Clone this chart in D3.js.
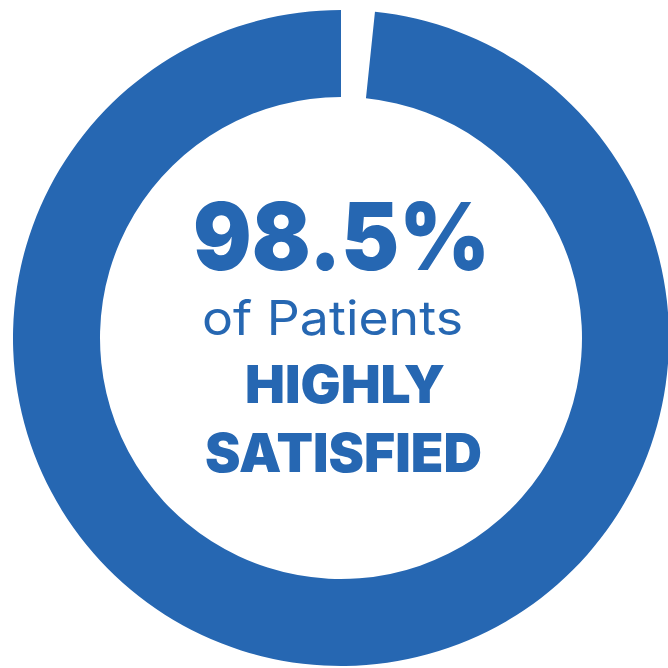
<!DOCTYPE html>
<html><head><meta charset="utf-8">
<script src="https://cdn.jsdelivr.net/npm/d3@7"></script>
<style>html,body{margin:0;padding:0;background:#fff;overflow:hidden}svg{display:block}</style>
</head><body>
<svg id="chart" width="668" height="668"></svg>
<script>
const categories = ["Highly satisfied", "Other"];
const values = [98.5, 1.5];
const headline = "98.5%";
const textLines = ["of Patients", "HIGHLY", "SATISFIED"];

const W = 668, H = 668;
const cx = 341, cy = 338, rOuter = 328, rInner = 241;
const blue = "#2667b2";

const svg = d3.select("#chart");
const g = svg.append("g").attr("transform", `translate(${cx},${cy})`);

// gap slice first (at 12 o'clock), satisfied slice after it
const pie = d3.pie().sort(null).value(d => d.v);
const data = [{k: categories[1], v: values[1]}, {k: categories[0], v: values[0]}];
const arcs = pie(data);
const pad = 0.0095;
const arc = d3.arc().innerRadius(rInner).outerRadius(rOuter)
  .startAngle(d => d.startAngle + (d.data.k === categories[0] ? pad : 0))
  .endAngle(d => d.endAngle);

g.selectAll("path").data(arcs).join("path")
  .attr("d", arc)
  .attr("fill", d => d.data.k === categories[0] ? blue : "none");

// text
const specs = [
  {t: headline, x: 341.5, y: 270, size: 94, weight: 900, w: 297},
  {t: textLines[0], x: 332.5, y: 335, size: 47.5, weight: 400, w: 261},
  {t: textLines[1], x: 345, y: 403, size: 52, weight: 900, w: 200},
  {t: textLines[2], x: 343.5, y: 472, size: 53, weight: 900, w: 277}
];
svg.selectAll("text.lbl").data(specs).join("text")
  .attr("class", "lbl")
  .attr("x", d => d.x).attr("y", d => d.y)
  .attr("text-anchor", "middle")
  .attr("font-family", "Inter, 'Noto Sans', sans-serif")
  .attr("font-size", d => d.size)
  .attr("font-weight", d => d.weight)
  .attr("fill", blue)
  .attr("textLength", d => d.w)
  .attr("lengthAdjust", "spacingAndGlyphs")
  .text(d => d.t);
</script>
</body></html>
